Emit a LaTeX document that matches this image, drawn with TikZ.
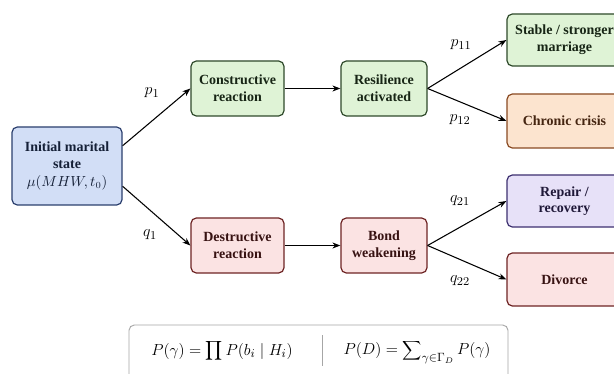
\documentclass[tikz,border=0pt]{standalone}
\usepackage{fontspec}
\setmainfont{Liberation Serif}
\usetikzlibrary{arrows.meta}
\definecolor{gfill}{HTML}{DFF3D6}\definecolor{gdraw}{HTML}{2F4A2B}
\definecolor{rfill}{HTML}{FBE3E3}\definecolor{rdraw}{HTML}{6E2424}
\definecolor{ofill}{HTML}{FCE4CF}\definecolor{odraw}{HTML}{8A4A22}
\definecolor{pfill}{HTML}{E7E1F8}\definecolor{pdraw}{HTML}{3D3070}
\definecolor{bfill}{HTML}{D2DEF6}\definecolor{bdraw}{HTML}{2B3F6E}
\begin{document}
\begin{tikzpicture}[x=0.75pt,y=-0.75pt,
  box/.style={draw, rounded corners=4pt, line width=0.9pt, align=center,
    font=\fontsize{10.5}{12.5}\selectfont\bfseries, inner sep=1pt},
  gbox/.style={box, fill=gfill, draw=gdraw, text=gdraw!50!black},
  rbox/.style={box, fill=rfill, draw=rdraw, text=rdraw!50!black},
  obox/.style={box, fill=ofill, draw=odraw, text=odraw!50!black},
  pbox/.style={box, fill=pfill, draw=pdraw, text=pdraw!50!black},
  bbox/.style={box, fill=bfill, draw=bdraw, text=bdraw!50!black},
  arr/.style={-{Stealth[length=6pt,width=4.5pt]}, line width=0.8pt},
  lab/.style={font=\fontsize{12.5}{14}\selectfont}]
\useasboundingbox (0,0) rectangle (614,374);
\fill[white] (0,0) rectangle (614,374);
\node[bbox, minimum width=82.5pt, minimum height=58.5pt] (init) at (67,166)
  {Initial marital\\state\\[1pt] \mdseries$\mu(MHW,t_0)$};
\node[gbox, minimum width=69.75pt, minimum height=41.25pt] (cons) at (237.5,88.5) {Constructive\\reaction};
\node[gbox, minimum width=64.5pt, minimum height=41.25pt] (res) at (384,88.5) {Resilience\\activated};
\node[rbox, minimum width=69.75pt, minimum height=41.25pt] (des) at (237.5,245.5) {Destructive\\reaction};
\node[rbox, minimum width=64.5pt, minimum height=41.25pt] (bond) at (384,245.5) {Bond\\weakening};
\node[gbox, minimum width=86.25pt, minimum height=39pt] (stab) at (564.5,40) {Stable / stronger\\marriage};
\node[obox, minimum width=86.25pt, minimum height=40.5pt] (chr) at (564.5,121) {Chronic crisis};
\node[pbox, minimum width=86.25pt, minimum height=39pt] (rep) at (564.5,201) {Repair /\\recovery};
\node[rbox, minimum width=86.25pt, minimum height=39.75pt] (div) at (564.5,279.5) {Divorce};
\draw[arr] (init.20) -- (cons.west);
\draw[arr] (init.-20) -- (des.west);
\draw[arr] (cons.east) -- (res.west);
\draw[arr] (des.east) -- (bond.west);
\draw[arr] (res.east) -- (stab.west);
\draw[arr] (res.east) -- (chr.west);
\draw[arr] (bond.east) -- (rep.west);
\draw[arr] (bond.east) -- (div.west);
\node[lab] (lp1) at (152,93) {$p_1$};
\node[lab] (lq1) at (150,235) {$q_1$};
\node[lab] (lp11) at (461,45) {$p_{11}$};
\node[lab] (lp12) at (460,120) {$p_{12}$};
\node[lab] (lq21) at (460,201) {$q_{21}$};
\node[lab] (lq22) at (460,281) {$q_{22}$};
\draw[draw=gray!70, fill=white, line width=0.7pt, rounded corners=4pt] (129,325) rectangle (508,390);
\draw[gray!70, line width=0.6pt] (322,335) -- (322,366);
\node[font=\fontsize{12.5}{14}\selectfont] (f1) at (222,351) {$P(\gamma)=\displaystyle\prod P(b_i\mid H_i)$};
\node[font=\fontsize{12.5}{14}\selectfont] (f2) at (417,352) {$P(D)=\displaystyle\sum\nolimits_{\gamma\in\Gamma_D}P(\gamma)$};
\end{tikzpicture}
\end{document}
